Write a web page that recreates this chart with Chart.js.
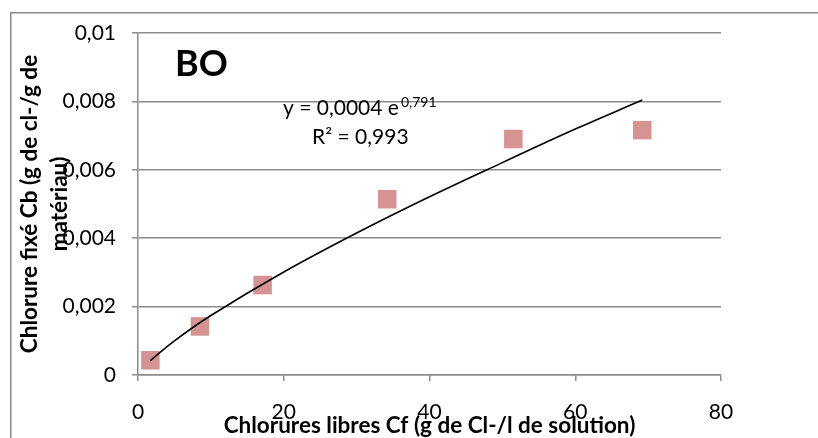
<!DOCTYPE html>
<html>
<head>
<meta charset="utf-8">
<script src="https://cdn.jsdelivr.net/npm/chart.js@4/dist/chart.umd.min.js"></script>
<style>
  html, body { margin: 0; padding: 0; background: #fff; }
  #chart { display: block; }
</style>
</head>
<body>
<canvas id="chart" width="818" height="438"></canvas>
<script>
const cfValues = [1.7, 8.5, 17.1, 34.2, 51.5, 69.2];
const cbValues = [0.00043, 0.00142, 0.00263, 0.00514, 0.0069, 0.00716];

// courbe de tendance
const trendX = [1.7, 5, 10, 20, 30, 40, 50, 60, 69.2];
const trendY = [0.00042, 0.0010, 0.00174, 0.00301, 0.00415, 0.00521, 0.00621, 0.00719, 0.00804];

const xTitle = 'Chlorures libres Cf (g de Cl-/l de solution)';
const yTitleLines = ['Chlorure fixé Cb (g de cl-/g de', 'matériau)'];
const chartLabel = 'BO';
const equation = ['y = 0,0004 e', '0,791'];
const r2Text = 'R² = 0,993';

const gridGrey = '#8c8c8c';
const fontName = 'Lato';

function formatTick(value) {
  return Number(value.toFixed(3)).toString().replace('.', ',');
}

const textPlugin = {
  id: 'textes',
  afterDraw(chart) {
    const ctx = chart.ctx;
    ctx.save();

    // cadre extérieur
    ctx.strokeStyle = gridGrey;
    ctx.lineWidth = 1.5;
    ctx.beginPath();
    ctx.moveTo(10.75, 438);
    ctx.lineTo(10.75, 12.75);
    ctx.lineTo(818, 12.75);
    ctx.stroke();

    ctx.fillStyle = '#000';

    // titre axe x
    ctx.font = 'bold 22.5px ' + fontName;
    ctx.textAlign = 'center';
    ctx.textBaseline = 'alphabetic';
    const area = chart.chartArea;
    ctx.fillText(xTitle, (area.left + area.right) / 2, 433);

    // titre axe y (2 lignes)
    ctx.save();
    ctx.translate(30, 204);
    ctx.rotate(-Math.PI / 2);
    ctx.textBaseline = 'middle';
    ctx.font = 'bold 22.5px ' + fontName;
    ctx.fillText(yTitleLines[0], 0, 0);
    ctx.fillText(yTitleLines[1], 0, 30);
    ctx.restore();

    // BO
    ctx.font = 'bold 36px ' + fontName;
    ctx.textAlign = 'left';
    ctx.fillText(chartLabel, 175, 76);

    // équation
    ctx.font = '21px ' + fontName;
    ctx.fillText(equation[0], 283, 115);
    const w = ctx.measureText(equation[0]).width;
    ctx.font = '14px ' + fontName;
    ctx.fillText(equation[1], 283 + w + 2, 107);
    ctx.font = '21px ' + fontName;
    ctx.fillText(r2Text, 312, 144);

    ctx.restore();
  }
};

const ctx = document.getElementById('chart').getContext('2d');

new Chart(ctx, {
  type: 'scatter',
  data: {
    datasets: [{
      label: 'Tendance',
      data: trendX.map((x, i) => ({ x: x, y: trendY[i] })),
      showLine: true,
      borderColor: '#000',
      borderWidth: 1.6,
      pointRadius: 0,
      tension: 0.4,
      fill: false
    }, {
      label: 'BO',
      data: cfValues.map((x, i) => ({ x: x, y: cbValues[i] })),
      pointStyle: 'rect',
      pointRadius: 13.1,
      pointBackgroundColor: '#D59393',
      pointBorderWidth: 0,
      showLine: false
    }]
  },
  options: {
    responsive: false,
    animation: false,
    layout: {
      padding: { left: 0, top: 33, right: 97, bottom: 0 }
    },
    plugins: {
      legend: { display: false },
      tooltip: { enabled: false }
    },
    scales: {
      x: {
        type: 'linear',
        min: 0,
        max: 80,
        afterFit: s => { s.height = 63; },
        ticks: {
          stepSize: 20,
          color: '#000',
          padding: 19,
          font: { family: fontName, size: 21 }
        },
        grid: {
          drawOnChartArea: false,
          drawTicks: true,
          tickLength: 6,
          color: gridGrey,
          lineWidth: 1.5
        },
        border: { display: true, color: gridGrey, width: 1.5 }
      },
      y: {
        min: 0,
        max: 0.01,
        afterFit: s => { s.width = 138; },
        ticks: {
          stepSize: 0.002,
          color: '#000',
          padding: 16,
          font: { family: fontName, size: 21 },
          callback: v => formatTick(v)
        },
        grid: {
          color: gridGrey,
          lineWidth: 1.5,
          tickLength: 6
        },
        border: { display: true, color: gridGrey, width: 1.5 }
      }
    }
  },
  plugins: [textPlugin]
});
</script>
</body>
</html>
